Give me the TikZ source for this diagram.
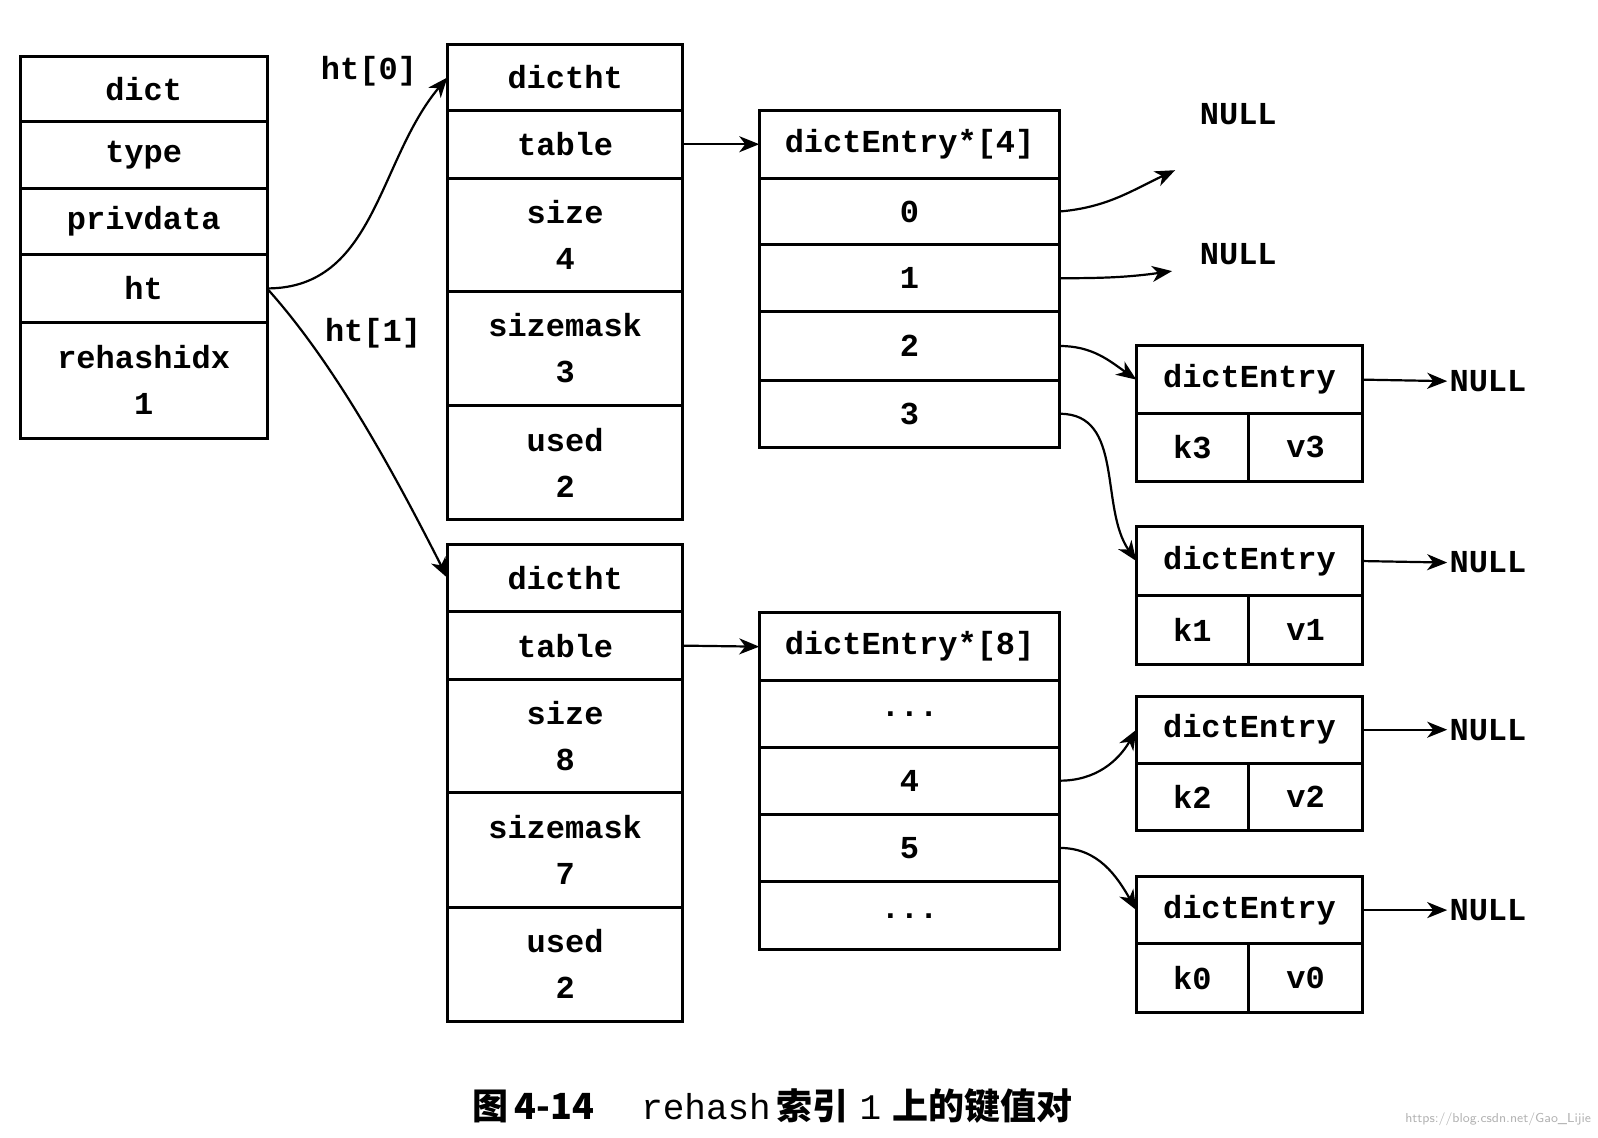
\documentclass[tikz,border=0pt]{standalone}
\usepackage{fontspec}
\setmonofont{Liberation Mono}
\newfontfamily\cjk{Noto Sans CJK SC}
\usetikzlibrary{arrows.meta}

\newcommand\px{0.5096pt}
\tikzset{
  cell/.style={draw,line width=1.5pt,anchor=north west,inner sep=0pt,outer sep=0pt,
    align=center,font=\ttfamily\bfseries\fontsize{16}{23}\selectfont},
  cw/.style={minimum width=#1*\px},
  ch/.style={minimum height=#1*\px},
  link/.style={line width=1.1pt,-{Stealth[length=10pt,width=8pt,inset=3pt]}},
  word/.style={font=\ttfamily\bfseries\fontsize{16}{23}\selectfont,inner sep=1pt}
}

\begin{document}
\begin{tikzpicture}[x=\px,y=-\px]
  \useasboundingbox (0,0) rectangle (1568,1116);

  % dict
  \node[cell,cw=242,ch=64]  (d0) at (20,55)  {dict};
  \node[cell,cw=242,ch=66]  (d1) at (20,119) {type};
  \node[cell,cw=242,ch=65]  (d2) at (20,185) {privdata};
  \node[cell,cw=242,ch=66]  (d3) at (20,250) {ht};
  \node[cell,cw=242,ch=114] (d4) at (20,316) {rehashidx\\1};

  % ht[0]
  \node[cell,cw=231,ch=64]  (h0a) at (439,44)  {dictht};
  \node[cell,cw=231,ch=67]  (h0b) at (439,108) {table};
  \node[cell,cw=231,ch=111] (h0c) at (439,175) {size\\4};
  \node[cell,cw=231,ch=112] (h0d) at (439,286) {sizemask\\3};
  \node[cell,cw=231,ch=112] (h0e) at (439,398) {used\\2};

  % ht[1]
  \node[cell,cw=231,ch=66]  (h1a) at (439,534) {dictht};
  \node[cell,cw=231,ch=67]  (h1b) at (439,600) {table};
  \node[cell,cw=231,ch=111] (h1c) at (439,667) {size\\8};
  \node[cell,cw=231,ch=112] (h1d) at (439,778) {sizemask\\7};
  \node[cell,cw=231,ch=112] (h1e) at (439,890) {used\\2};

  % buckets of ht[0]
  \node[cell,cw=295,ch=67] (t0h) at (745,108) {dictEntry*[4]};
  \node[cell,cw=295,ch=65] (t00) at (745,175) {0};
  \node[cell,cw=295,ch=66] (t01) at (745,240) {1};
  \node[cell,cw=295,ch=67] (t02) at (745,306) {2};
  \node[cell,cw=295,ch=66] (t03) at (745,373) {3};

  % buckets of ht[1]
  \node[cell,cw=295,ch=67] (t1h) at (745,601) {dictEntry*[8]};
  \node[cell,cw=295,ch=65] (t1a) at (745,668) {...};
  \node[cell,cw=295,ch=66] (t14) at (745,733) {4};
  \node[cell,cw=295,ch=66] (t15) at (745,799) {5};
  \node[cell,cw=295,ch=67] (t1b) at (745,865) {...};

  % entries
  \node[cell,cw=222,ch=67] (e3) at (1115,339) {dictEntry};
  \node[cell,cw=110,ch=66] (e3k) at (1115,406) {k3};
  \node[cell,cw=112,ch=66] (e3v) at (1225,406) {v3};
  \node[cell,cw=222,ch=67] (e1) at (1115,517) {dictEntry};
  \node[cell,cw=110,ch=68] (e1k) at (1115,584) {k1};
  \node[cell,cw=112,ch=68] (e1v) at (1225,584) {v1};
  \node[cell,cw=222,ch=66] (e2) at (1115,683) {dictEntry};
  \node[cell,cw=110,ch=66] (e2k) at (1115,749) {k2};
  \node[cell,cw=112,ch=66] (e2v) at (1225,749) {v2};
  \node[cell,cw=222,ch=66] (e0) at (1115,860) {dictEntry};
  \node[cell,cw=110,ch=67] (e0k) at (1115,926) {k0};
  \node[cell,cw=112,ch=67] (e0v) at (1225,926) {v0};

  % NULLs
  \node[word] (nA) at (1215,112) {NULL};
  \node[word] (nB) at (1215,249) {NULL};
  \node[word,anchor=west] (n3) at (1420,374) {NULL};
  \node[word,anchor=west] (n1) at (1420,552) {NULL};
  \node[word,anchor=west] (n2) at (1420,716) {NULL};
  \node[word,anchor=west] (n0) at (1420,893) {NULL};
  \coordinate (pA) at (1153,167);
  \coordinate (pB) at (1150,266);

  % labels
  \node[word] (l0) at (362,70)  {ht[0]};
  \node[word] (l1) at (366,327) {ht[1]};

  \draw[link] (d3.east) to[out=0,in=230] (h0a.west);
  \draw[link] (d3.east) to[out=-48,in=117,looseness=0.8] (h1a.west);
  \draw[link] (h0b.east) -- (t0h.west);
  \draw[link] (h1b.east) -- (t1h.west);

  \draw[link] (t00.east) to[out=5,in=205] (pA);
  \draw[link] (t01.east) to[out=0,in=188] (pB);
  \draw[link] (t02.east) to[out=0,in=145] (e3.west);
  \draw[link] (t03.east) to[out=0,in=125] (e1.west);
  \draw[link] (t14.east) to[out=0,in=240] (e2.west);
  \draw[link] (t15.east) to[out=0,in=120] (e0.west);

  \draw[link] (e3.east) -- (n3.west);
  \draw[link] (e1.east) -- (n1.west);
  \draw[link] (e2.east) -- (n2.west);
  \draw[link] (e0.east) -- (n0.west);

  % caption
  \node (cap) at (758,1085) {\fontsize{18}{22}\selectfont
    {\cjk\bfseries 图\,4-14}\quad\ {\ttfamily rehash}\,{\cjk\bfseries 索引}\ {\ttfamily 1}\ {\cjk\bfseries 上的键值对}};
  \node[text=black!30,font=\sffamily\fontsize{6.5}{8}\selectfont] (wm) at (1470,1098)
    {https://blog.csdn.net/Gao\_Lijie};
\end{tikzpicture}
\end{document}
